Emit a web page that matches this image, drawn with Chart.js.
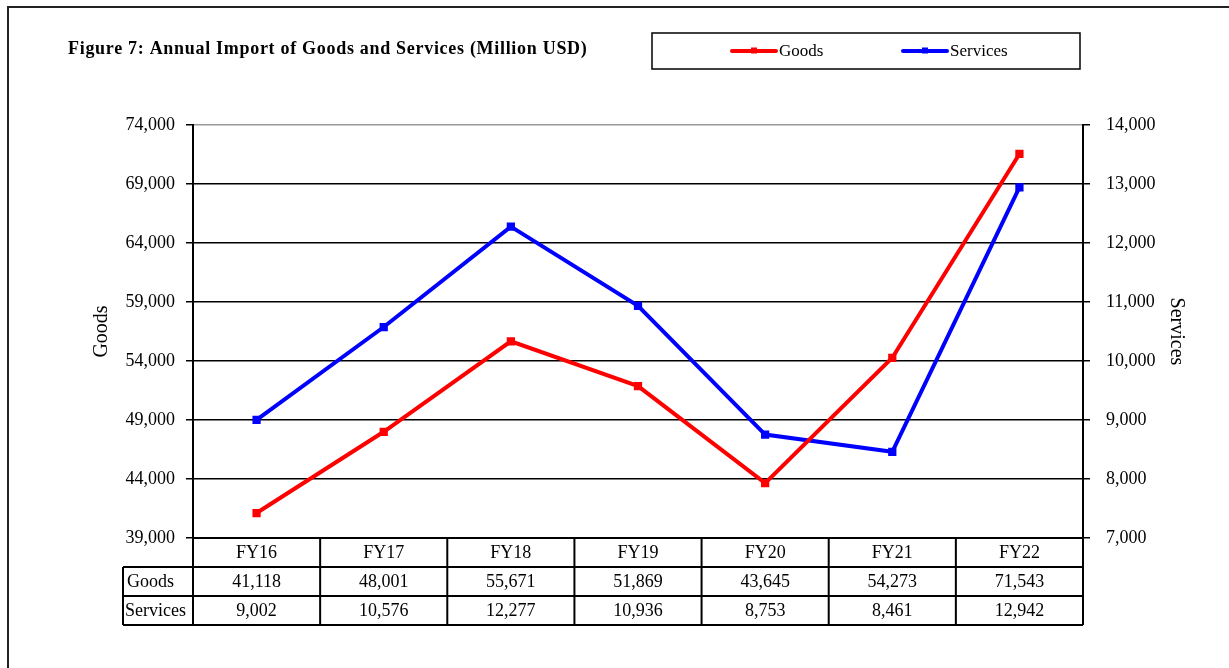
<!DOCTYPE html>
<html>
<head>
<meta charset="utf-8">
<script src="https://cdn.jsdelivr.net/npm/chart.js@4/dist/chart.umd.min.js"></script>
<style>
    html, body { margin: 0; padding: 0; background: #fff; }
    #wrap { width: 1229px; height: 668px; }
</style>
</head>
<body>
<div id="wrap"><canvas id="chart" width="1229" height="668"></canvas></div>
<script>
const YEARS = ['FY16', 'FY17', 'FY18', 'FY19', 'FY20', 'FY21', 'FY22'];
const GOODS = [41118, 48001, 55671, 51869, 43645, 54273, 71543];
const SERVICES = [9002, 10576, 12277, 10936, 8753, 8461, 12942];

const TITLE = 'Figure 7: Annual Import of Goods and Services (Million USD)';
const SERIF = '"Liberation Serif", "Times New Roman", serif';

const fmt = v => Number(v).toLocaleString('en-US');

// cadre, titre, légende et tableau de données sous le graphique
const decorPlugin = {
    id: 'decor',
    afterDraw(chart) {
        const ctx = chart.ctx;
        const area = chart.chartArea;
        const x = chart.scales.x;
        const rowH = 29;
        const labelLeft = 123;

        ctx.save();

        // cadre extérieur
        ctx.strokeStyle = '#222';
        ctx.lineWidth = 2;
        ctx.beginPath();
        ctx.moveTo(8, 668);
        ctx.lineTo(8, 7);
        ctx.lineTo(1229, 7);
        ctx.stroke();

        // titre
        ctx.fillStyle = '#000';
        ctx.font = 'bold 18px ' + SERIF;
        ctx.textAlign = 'left';
        ctx.textBaseline = 'middle';
        ctx.letterSpacing = '0.7px';
        ctx.fillText(TITLE, 68, 49);
        ctx.letterSpacing = '0px';

        // légende
        ctx.lineWidth = 1.5;
        ctx.strokeStyle = '#000';
        ctx.strokeRect(652, 33, 428, 36);
        const items = [[732, 0], [903, 1]];
        ctx.font = '17px ' + SERIF;
        items.forEach(([lx, idx]) => {
            const ds = chart.data.datasets[idx];
            ctx.strokeStyle = ds.borderColor;
            ctx.lineWidth = 4;
            ctx.lineCap = 'round';
            ctx.beginPath();
            ctx.moveTo(lx, 51);
            ctx.lineTo(lx + 44, 51);
            ctx.stroke();
            ctx.fillStyle = ds.borderColor;
            ctx.fillRect(lx + 19, 47.5, 6, 6);
            ctx.fillStyle = '#000';
            ctx.fillText(ds.label, lx + 47, 52);
        });

        // tableau
        const top = area.bottom;
        const bottom = top + rowH * 3;
        ctx.strokeStyle = '#000';
        ctx.lineWidth = 2;
        ctx.lineCap = 'butt';
        ctx.beginPath();
        for (let r = 0; r <= 3; r++) {
            const y = top + r * rowH;
            ctx.moveTo(r === 0 ? area.left : labelLeft, y);
            ctx.lineTo(area.right, y);
        }
        ctx.moveTo(labelLeft, top + rowH);
        ctx.lineTo(labelLeft, bottom);
        ctx.moveTo(area.left, top);
        ctx.lineTo(area.left, bottom);
        const step = (area.right - area.left) / YEARS.length;
        for (let i = 1; i <= YEARS.length; i++) {
            const bx = area.left + step * i;
            ctx.moveTo(bx, top);
            ctx.lineTo(bx, bottom);
        }
        ctx.stroke();

        ctx.font = '18px ' + SERIF;
        ctx.fillStyle = '#000';
        ctx.textAlign = 'center';
        YEARS.forEach((yr, i) => {
            const cx = x.getPixelForValue(i);
            ctx.fillText(yr, cx, top + rowH / 2 + 1);
            ctx.fillText(fmt(GOODS[i]), cx, top + rowH * 1.5 + 1);
            ctx.fillText(fmt(SERVICES[i]), cx, top + rowH * 2.5 + 1);
        });
        ctx.textAlign = 'left';
        ctx.fillText('Goods', labelLeft + 4, top + rowH * 1.5 + 1);
        ctx.fillText('Services', labelLeft + 2, top + rowH * 2.5 + 1);

        ctx.restore();
    }
};

new Chart(document.getElementById('chart'), {
    type: 'line',
    data: {
        labels: YEARS,
        datasets: [
            {
                label: 'Goods',
                data: GOODS,
                yAxisID: 'y',
                borderColor: '#FF0000',
                backgroundColor: '#FF0000',
                borderWidth: 4,
                pointStyle: 'rect',
                pointRadius: 3,
                tension: 0
            },
            {
                label: 'Services',
                data: SERVICES,
                yAxisID: 'y1',
                borderColor: '#0000FF',
                backgroundColor: '#0000FF',
                borderWidth: 4,
                pointStyle: 'rect',
                pointRadius: 3,
                tension: 0
            }
        ]
    },
    options: {
        responsive: false,
        animation: false,
        layout: { padding: { left: 86, right: 37, top: 125, bottom: 130 } },
        plugins: {
            legend: { display: false },
            tooltip: { enabled: false }
        },
        scales: {
            x: {
                type: 'category',
                offset: true,
                display: false
            },
            y: {
                position: 'left',
                min: 39000,
                max: 74000,
                afterFit: s => { s.width = 107; },
                ticks: {
                    stepSize: 5000,
                    padding: 11,
                    color: '#000',
                    font: { family: SERIF, size: 18 },
                    callback: v => fmt(v)
                },
                grid: {
                    color: c => c.index === 7 ? '#999' : '#000',
                    tickColor: '#000',
                    lineWidth: 1.5,
                    tickLength: 7
                },
                border: { color: '#000', width: 2 },
                title: {
                    display: true,
                    text: 'Goods',
                    color: '#000',
                    font: { family: SERIF, size: 20 }
                }
            },
            y1: {
                position: 'right',
                min: 7000,
                max: 14000,
                afterFit: s => { s.width = 109; },
                ticks: {
                    stepSize: 1000,
                    padding: 16,
                    color: '#000',
                    font: { family: SERIF, size: 18 },
                    callback: v => fmt(v)
                },
                grid: {
                    drawOnChartArea: false,
                    color: '#000',
                    lineWidth: 1.5,
                    tickLength: 7
                },
                border: { color: '#000', width: 2 },
                title: {
                    display: true,
                    text: 'Services',
                    color: '#000',
                    font: { family: SERIF, size: 20 }
                }
            }
        }
    },
    plugins: [decorPlugin]
});
</script>
</body>
</html>
